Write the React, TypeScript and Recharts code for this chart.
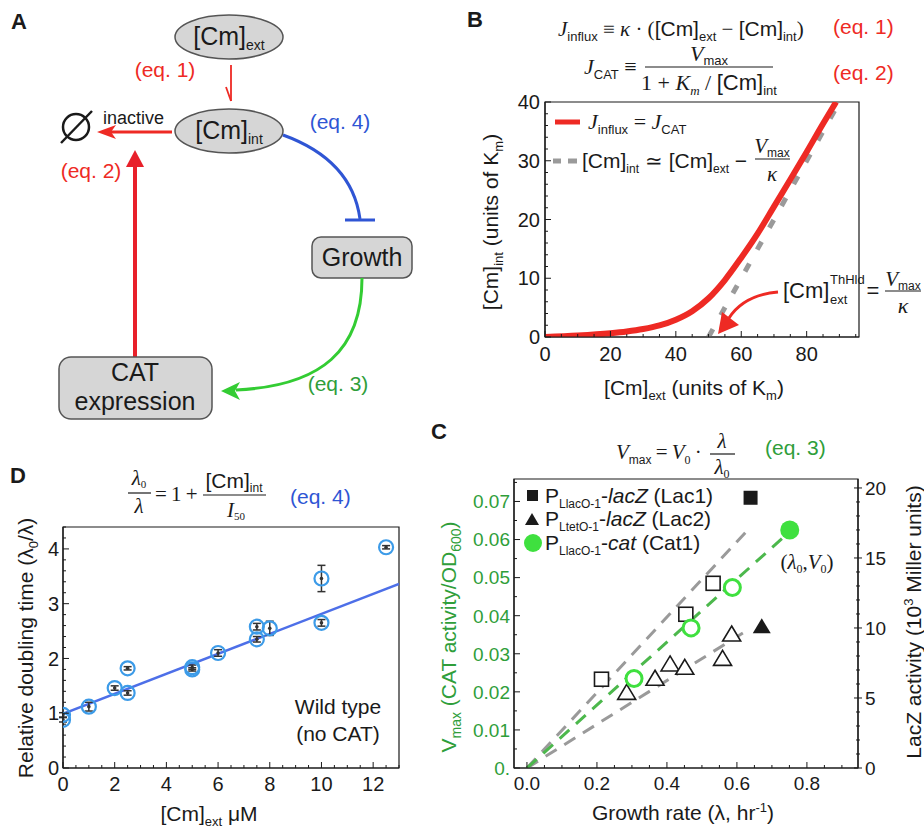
import React from "react";
import { ComposedChart, Line, Scatter, XAxis, YAxis, ErrorBar, ReferenceArea } from "recharts";

const SANS = "'Liberation Sans', Arial, sans-serif";
const SERIF = "'Liberation Serif', 'Times New Roman', serif";
const INK = "#1a1a1a";
const RED = "#ee2a24";
const BLUE = "#2f55d4";
const GREEN = "#2f9e3a";
const LIME = "#3fe03f";
const GRAY = "#9a9a9a";
const RING = "#3c9be8";

// ---- panel B: steady state [Cm]int vs [Cm]ext
const bExt = [0, 10, 20, 25, 30, 35, 40, 45, 50, 55, 60, 65, 70, 75, 80, 85, 89];
const bInt = [0, 0.24, 0.63, 0.93, 1.35, 1.97, 2.95, 4.4, 6.6, 9.7, 13.5, 17.6, 22.2, 26.8, 31.5, 36.3, 40];
const bApproxExt = [50, 90];
const bApproxInt = [0, 40];
const bTicksX = [0, 5, 10, 15, 20, 25, 30, 35, 40, 45, 50, 55, 60, 65, 70, 75, 80, 85, 90, 95];
const bMajorX = [0, 20, 40, 60, 80];
const bTicksY = [0, 2, 4, 6, 8, 10, 12, 14, 16, 18, 20, 22, 24, 26, 28, 30, 32, 34, 36, 38, 40];
const bMajorY = [0, 10, 20, 30, 40];

// ---- panel C: Vmax / LacZ vs growth rate
const lac1X = [0.213, 0.454, 0.532];
const lac1Y = [6.34, 10.98, 13.19];
const lac1RefX = [0.639];
const lac1RefY = [19.3];
const lac2X = [0.285, 0.366, 0.409, 0.451, 0.559, 0.585];
const lac2Y = [5.33, 6.34, 7.36, 7.12, 7.76, 9.5];
const lac2RefX = [0.671];
const lac2RefY = [10.05];
const cat1X = [0.306, 0.469, 0.587];
const cat1Y = [0.0235, 0.0368, 0.0474];
const cat1RefX = [0.751];
const cat1RefY = [0.0625];
const upperX = [0, 0.631];
const upperY = [0, 17.0];
const catFitX = [0, 0.74];
const catFitY = [0, 0.0612];
const lowerX = [0, 0.617];
const lowerY = [0, 9.64];
const cTicksX = [0, 0.05, 0.1, 0.15, 0.2, 0.25, 0.3, 0.35, 0.4, 0.45, 0.5, 0.55, 0.6, 0.65, 0.7, 0.75, 0.8, 0.85, 0.9];
const cMajorX = [0, 0.2, 0.4, 0.6, 0.8];
const cTicksL = [0, 0.005, 0.01, 0.015, 0.02, 0.025, 0.03, 0.035, 0.04, 0.045, 0.05, 0.055, 0.06, 0.065, 0.07, 0.075];
const cMajorL = [0, 0.01, 0.02, 0.03, 0.04, 0.05, 0.06, 0.07];
const cTicksR = [0, 1, 2, 3, 4, 5, 6, 7, 8, 9, 10, 11, 12, 13, 14, 15, 16, 17, 18, 19, 20];
const cMajorR = [0, 5, 10, 15, 20];

// ---- panel D: relative doubling time vs [Cm]ext
const dConc = [0, 0, 1, 2, 2.5, 2.5, 5, 5, 6, 7.5, 7.5, 8, 10, 10, 12.5];
const dRatio = [0.88, 0.97, 1.12, 1.46, 1.82, 1.37, 1.84, 1.8, 2.1, 2.58, 2.35, 2.55, 3.46, 2.65, 4.03];
const dErr = [0.04, 0.04, 0.08, 0.04, 0.03, 0.04, 0.04, 0.03, 0.06, 0.06, 0.05, 0.13, 0.24, 0.06, 0.03];
const dFitX = [0, 13];
const dFitY = [0.99, 3.36];
const dTicksX = [0, 0.5, 1, 1.5, 2, 2.5, 3, 3.5, 4, 4.5, 5, 5.5, 6, 6.5, 7, 7.5, 8, 8.5, 9, 9.5, 10, 10.5, 11, 11.5, 12, 12.5, 13];
const dMajorX = [0, 2, 4, 6, 8, 10, 12];
const dTicksY = [0, 0.2, 0.4, 0.6, 0.8, 1, 1.2, 1.4, 1.6, 1.8, 2, 2.2, 2.4, 2.6, 2.8, 3, 3.2, 3.4, 3.6, 3.8, 4, 4.2, 4.4];
const dMajorY = [0, 1, 2, 3, 4];

const pts = (xs: number[], ys: number[], es?: number[]) =>
  xs.map((x, i) => (es ? { x, y: ys[i], e: es[i] } : { x, y: ys[i] }));

type TickCfg = {
  side: "bottom" | "left" | "right";
  gap: number;
  majors: number[];
  fmt: (v: number) => string;
  size: number;
  color?: string;
};

function tickRenderer(c: TickCfg) {
  return (p: any) => {
    const v = Number(p.payload.value);
    const major = c.majors.some((m) => Math.abs(m - v) < 1e-7);
    const L = major ? 6 : 3;
    const fill = c.color ?? INK;
    if (c.side === "bottom") {
      const a = p.y - c.gap;
      return (
        <g>
          <line x1={p.x} x2={p.x} y1={a} y2={a - L} stroke={INK} strokeWidth={1} />
          {major && (
            <text x={p.x} y={p.y} dy="0.75em" textAnchor="middle" fontSize={c.size} fill={fill} fontFamily={SANS}>
              {c.fmt(v)}
            </text>
          )}
        </g>
      );
    }
    if (c.side === "left") {
      const a = p.x + c.gap;
      return (
        <g>
          <line x1={a} x2={a + L} y1={p.y} y2={p.y} stroke={INK} strokeWidth={1} />
          {major && (
            <text x={p.x} y={p.y} dy="0.36em" textAnchor="end" fontSize={c.size} fill={fill} fontFamily={SANS}>
              {c.fmt(v)}
            </text>
          )}
        </g>
      );
    }
    const a = p.x - c.gap;
    return (
      <g>
        <line x1={a - (major ? 4 : 2)} x2={a + (major ? 4 : 2)} y1={p.y} y2={p.y} stroke={INK} strokeWidth={1} />
        {major && (
          <text x={p.x} y={p.y} dy="0.36em" textAnchor="start" fontSize={c.size} fill={fill} fontFamily={SANS}>
            {c.fmt(v)}
          </text>
        )}
      </g>
    );
  };
}

const axisLine = { stroke: INK, strokeWidth: 1.2 };

function PanelB() {
  return (
    <ComposedChart width={464} height={420} margin={{ top: 102, right: 65, bottom: 53, left: 55 }}>
      <XAxis type="number" dataKey="x" domain={[0, 96]} ticks={bTicksX} interval={0} allowDataOverflow
        height={30} tickSize={0} tickMargin={9} tickLine={false} axisLine={axisLine}
        tick={tickRenderer({ side: "bottom", gap: 9, majors: bMajorX, fmt: String, size: 20 })} />
      <YAxis type="number" dataKey="y" domain={[0, 40]} ticks={bTicksY} interval={0} allowDataOverflow
        width={30} tickSize={0} tickMargin={5} tickLine={false} axisLine={axisLine}
        tick={tickRenderer({ side: "left", gap: 5, majors: bMajorY, fmt: String, size: 20 })} />
      <ReferenceArea x1={0} x2={96} y1={0} y2={40} fill="none" stroke={INK} strokeWidth={1.2} />
      <Line data={pts(bApproxExt, bApproxInt)} dataKey="y" stroke={GRAY} strokeWidth={5}
        strokeDasharray="9 16" dot={false} isAnimationActive={false} />
      <Line data={pts(bExt, bInt)} dataKey="y" type="monotone" stroke={RED} strokeWidth={6}
        dot={false} isAnimationActive={false} />
    </ComposedChart>
  );
}

const openSquare = (p: any) => (
  <rect x={p.cx - 7} y={p.cy - 7} width={14} height={14} fill="#fff" stroke={INK} strokeWidth={1.6} />
);
const fullSquare = (p: any) => <rect x={p.cx - 7} y={p.cy - 7} width={14} height={14} fill={INK} />;
const openTri = (p: any) => (
  <path d={`M${p.cx},${p.cy - 9} L${p.cx + 9},${p.cy + 6} L${p.cx - 9},${p.cy + 6} Z`} fill="#fff" stroke={INK} strokeWidth={1.6} />
);
const fullTri = (p: any) => (
  <path d={`M${p.cx},${p.cy - 9} L${p.cx + 9},${p.cy + 6} L${p.cx - 9},${p.cy + 6} Z`} fill={INK} />
);
const openCircle = (p: any) => <circle cx={p.cx} cy={p.cy} r={8} fill="#fff" stroke={LIME} strokeWidth={3} />;
const fullCircle = (p: any) => <circle cx={p.cx} cy={p.cy} r={9.5} fill={LIME} />;

function PanelC() {
  return (
    <ComposedChart width={494} height={412} margin={{ top: 59, right: 26, bottom: 34, left: 44 }}>
      <XAxis type="number" dataKey="x" domain={[-0.037, 0.946]} ticks={cTicksX} interval={0} allowDataOverflow
        height={30} tickSize={0} tickMargin={8} tickLine={false} axisLine={axisLine}
        tick={tickRenderer({ side: "bottom", gap: 8, majors: cMajorX, fmt: (v) => v.toFixed(1), size: 19 })} />
      <YAxis yAxisId="L" type="number" dataKey="y" domain={[0, 0.0759]} ticks={cTicksL} interval={0} allowDataOverflow
        width={40} tickSize={0} tickMargin={4} tickLine={false} axisLine={axisLine}
        tick={tickRenderer({ side: "left", gap: 4, majors: cMajorL, fmt: (v) => (v === 0 ? "0." : v.toFixed(2)), size: 19, color: GREEN })} />
      <YAxis yAxisId="R" orientation="right" type="number" dataKey="y" domain={[0, 20.64]} ticks={cTicksR} interval={0} allowDataOverflow
        width={40} tickSize={0} tickMargin={7} tickLine={false} axisLine={axisLine}
        tick={tickRenderer({ side: "right", gap: 7, majors: cMajorR, fmt: String, size: 19 })} />
      <ReferenceArea yAxisId="L" x1={-0.037} x2={0.946} y1={0} y2={0.0759} fill="none" stroke={INK} strokeWidth={1.2} />
      <Line yAxisId="R" data={pts(upperX, upperY)} dataKey="y" stroke={GRAY} strokeWidth={3} strokeDasharray="13 9" dot={false} isAnimationActive={false} />
      <Line yAxisId="R" data={pts(lowerX, lowerY)} dataKey="y" stroke={GRAY} strokeWidth={3} strokeDasharray="13 9" dot={false} isAnimationActive={false} />
      <Line yAxisId="L" data={pts(catFitX, catFitY)} dataKey="y" stroke="#4cb84c" strokeWidth={3} strokeDasharray="13 9" dot={false} isAnimationActive={false} />
      <Scatter yAxisId="R" data={pts(lac1X, lac1Y)} shape={openSquare} isAnimationActive={false} />
      <Scatter yAxisId="R" data={pts(lac1RefX, lac1RefY)} shape={fullSquare} isAnimationActive={false} />
      <Scatter yAxisId="R" data={pts(lac2X, lac2Y)} shape={openTri} isAnimationActive={false} />
      <Scatter yAxisId="R" data={pts(lac2RefX, lac2RefY)} shape={fullTri} isAnimationActive={false} />
      <Scatter yAxisId="L" data={pts(cat1X, cat1Y)} shape={openCircle} isAnimationActive={false} />
      <Scatter yAxisId="L" data={pts(cat1RefX, cat1RefY)} shape={fullCircle} isAnimationActive={false} />
    </ComposedChart>
  );
}

const ring = (p: any) => (
  <g>
    <circle cx={p.cx} cy={p.cy} r={7} fill="none" stroke={RING} strokeWidth={2.2} />
    <circle cx={p.cx} cy={p.cy} r={1.8} fill="#333" />
  </g>
);

function PanelD() {
  return (
    <ComposedChart width={460} height={412} margin={{ top: 107, right: 61, bottom: 34, left: 33 }}>
      <XAxis type="number" dataKey="x" domain={[0, 13]} ticks={dTicksX} interval={0} allowDataOverflow
        height={30} tickSize={0} tickMargin={8} tickLine={false} axisLine={axisLine}
        tick={tickRenderer({ side: "bottom", gap: 8, majors: dMajorX, fmt: String, size: 20 })} />
      <YAxis type="number" dataKey="y" domain={[0, 4.4]} ticks={dTicksY} interval={0} allowDataOverflow
        width={30} tickSize={0} tickMargin={4} tickLine={false} axisLine={axisLine}
        tick={tickRenderer({ side: "left", gap: 4, majors: dMajorY, fmt: String, size: 20 })} />
      <ReferenceArea x1={0} x2={13} y1={0} y2={4.4} fill="none" stroke={INK} strokeWidth={1.2} />
      <Line data={pts(dFitX, dFitY)} dataKey="y" stroke="#4d6fe8" strokeWidth={2.5} dot={false} isAnimationActive={false} />
      <Scatter data={pts(dConc, dRatio, dErr)} dataKey="y" shape={ring} isAnimationActive={false}>
        <ErrorBar dataKey="e" direction="y" width={4} stroke="#333" strokeWidth={1.5} />
      </Scatter>
    </ComposedChart>
  );
}

function Overlay() {
  const t = { fontFamily: SANS, fill: INK };
  return (
    <svg width={924} height={832} style={{ position: "absolute", left: 0, top: 0, pointerEvents: "none" }}>
      {/* ---------- panel A ---------- */}
      <text x={11} y={29} fontSize={22} fontWeight="bold" {...t}>A</text>
      <ellipse cx={229} cy={37} rx={54} ry={22} fill="#d6d6d6" stroke="#555" strokeWidth={1.5} />
      <text x={229} y={45} textAnchor="middle" fontSize={25} {...t}>
        [Cm]<tspan fontSize={14} dy={5}>ext</tspan>
      </text>
      <text x={165} y={77} textAnchor="middle" fontSize={21} fontFamily={SANS} fill={RED}>(eq. 1)</text>
      <line x1={231} y1={65} x2={231} y2={101} stroke={RED} strokeWidth={1.8} />
      <line x1={226} y1={87} x2={231} y2={101} stroke={RED} strokeWidth={1.8} />
      <ellipse cx={229} cy={131} rx={54} ry={22} fill="#d6d6d6" stroke="#555" strokeWidth={1.5} />
      <text x={229} y={139} textAnchor="middle" fontSize={25} {...t}>
        [Cm]<tspan fontSize={14} dy={5}>int</tspan>
      </text>
      <text x={103} y={124} fontSize={18} {...t}>inactive</text>
      <circle cx={76} cy={127} r={13} fill="none" stroke={INK} strokeWidth={2.5} />
      <line x1={61} y1={143} x2={92} y2={111} stroke={INK} strokeWidth={2.5} />
      <line x1={172} y1={132} x2={108} y2={132} stroke={RED} strokeWidth={3} />
      <path d="M97,132 L116,125 L111,132 L116,139 Z" fill={RED} />
      <text x={340} y={129} textAnchor="middle" fontSize={21} fontFamily={SANS} fill={BLUE}>(eq. 4)</text>
      <path d="M283,135 Q352,160 360,219" fill="none" stroke={BLUE} strokeWidth={3} />
      <line x1={345} y1={220} x2={375} y2={220} stroke={BLUE} strokeWidth={3} />
      <rect x={312} y={237} width={100} height={41} rx={9} fill="#d6d6d6" stroke="#555" strokeWidth={1.5} />
      <text x={362} y={266} textAnchor="middle" fontSize={25} {...t}>Growth</text>
      <text x={91} y={178} textAnchor="middle" fontSize={21} fontFamily={SANS} fill={RED}>(eq. 2)</text>
      <line x1={135} y1={357} x2={135} y2={164} stroke="#e8202a" strokeWidth={4} />
      <path d="M135,150 L144,167 L126,167 Z" fill="#e8202a" />
      <path d="M362,278 C362,350 322,386 236,390" fill="none" stroke="#33cc33" strokeWidth={3} />
      <path d="M221,391 L240,382 L235,391 L240,400 Z" fill="#33cc33" />
      <text x={338} y={391} textAnchor="middle" fontSize={21} fontFamily={SANS} fill={GREEN}>(eq. 3)</text>
      <rect x={59} y={357} width={153} height={62} rx={12} fill="#d6d6d6" stroke="#555" strokeWidth={1.5} />
      <text x={135} y={381} textAnchor="middle" fontSize={25} {...t}>CAT</text>
      <text x={135} y={410} textAnchor="middle" fontSize={25} {...t}>expression</text>

      {/* ---------- panel B ---------- */}
      <text x={467} y={27} fontSize={22} fontWeight="bold" {...t}>B</text>
      <text x={558} y={36} fontSize={21} fontFamily={SERIF} fill={INK}>
        <tspan fontStyle="italic">J</tspan>
        <tspan fontSize={13} dy={5} fontFamily={SANS}>influx</tspan>
        <tspan dy={-5}>{" ≡ "}</tspan>
        <tspan fontStyle="italic">κ</tspan>
        <tspan>{" · ("}</tspan>
        <tspan fontFamily={SANS}>[Cm]</tspan>
        <tspan fontFamily={SANS} fontSize={13} dy={5}>ext</tspan>
        <tspan dy={-5}>{" − "}</tspan>
        <tspan fontFamily={SANS}>[Cm]</tspan>
        <tspan fontFamily={SANS} fontSize={13} dy={5}>int</tspan>
        <tspan dy={-5}>)</tspan>
      </text>
      <text x={833} y={34} fontSize={21} fontFamily={SANS} fill={RED}>(eq. 1)</text>
      <text x={584} y={74} fontSize={22} fontFamily={SERIF} fill={INK}>
        <tspan fontStyle="italic">J</tspan>
        <tspan fontSize={13} dy={5} fontFamily={SANS}>CAT</tspan>
        <tspan dy={-5}>{" ≡"}</tspan>
      </text>
      <text x={709} y={61} textAnchor="middle" fontSize={22} fontFamily={SERIF} fill={INK}>
        <tspan fontStyle="italic">V</tspan>
        <tspan fontSize={13} dy={4} fontFamily={SANS}>max</tspan>
      </text>
      <line x1={645} y1={67} x2={773} y2={67} stroke={INK} strokeWidth={1.2} />
      <text x={709} y={90} textAnchor="middle" fontSize={22} fontFamily={SERIF} fill={INK}>
        <tspan>{"1 + "}</tspan>
        <tspan fontStyle="italic">K</tspan>
        <tspan fontSize={13} dy={5} fontStyle="italic">m</tspan>
        <tspan dy={-5}>{" / "}</tspan>
        <tspan fontFamily={SANS}>[Cm]</tspan>
        <tspan fontFamily={SANS} fontSize={13} dy={5}>int</tspan>
      </text>
      <text x={833} y={80} fontSize={21} fontFamily={SANS} fill={RED}>(eq. 2)</text>

      <line x1={555} y1={122} x2={580} y2={122} stroke={RED} strokeWidth={5} />
      <text x={588} y={129} fontSize={22} fontFamily={SERIF} fill={INK}>
        <tspan fontStyle="italic">J</tspan>
        <tspan fontSize={13} dy={5} fontFamily={SANS}>influx</tspan>
        <tspan dy={-5}>{" = "}</tspan>
        <tspan fontStyle="italic">J</tspan>
        <tspan fontSize={13} dy={5} fontFamily={SANS}>CAT</tspan>
      </text>
      <line x1={553} y1={161} x2={561} y2={161} stroke={GRAY} strokeWidth={5} />
      <line x1={568} y1={161} x2={577} y2={161} stroke={GRAY} strokeWidth={5} />
      <text x={582} y={168} fontSize={21} {...t}>
        [Cm]<tspan fontSize={12} dy={5}>int</tspan>
        <tspan dy={-5}>{" ≃ [Cm]"}</tspan>
        <tspan fontSize={12} dy={5}>ext</tspan>
        <tspan dy={-5}>{" −"}</tspan>
      </text>
      <text x={772} y={153} textAnchor="middle" fontSize={21} fontFamily={SERIF} fill={INK}>
        <tspan fontStyle="italic">V</tspan>
        <tspan fontSize={12} dy={4} fontFamily={SANS}>max</tspan>
      </text>
      <line x1={755} y1={159} x2={790} y2={159} stroke={INK} strokeWidth={1.2} />
      <text x={772} y={181} textAnchor="middle" fontSize={21} fontFamily={SERIF} fontStyle="italic" fill={INK}>κ</text>

      <text x={783} y={298} fontSize={22} {...t}>[Cm]</text>
      <text x={830} y={284} fontSize={13} {...t}>ThHld</text>
      <text x={830} y={304} fontSize={13} {...t}>ext</text>
      <text x={873} y={298} textAnchor="middle" fontSize={22} {...t}>=</text>
      <text x={903} y={286} textAnchor="middle" fontSize={21} fontFamily={SERIF} fill={INK}>
        <tspan fontStyle="italic">V</tspan>
        <tspan fontSize={12} dy={4} fontFamily={SANS}>max</tspan>
      </text>
      <line x1={885} y1={291} x2={921} y2={291} stroke={INK} strokeWidth={1.2} />
      <text x={903} y={313} textAnchor="middle" fontSize={22} fontFamily={SERIF} fontStyle="italic" fill={INK}>κ</text>
      <path d="M778,292 Q744,295 729,318" fill="none" stroke={RED} strokeWidth={3} />
      <path d="M718,334 L722,312 L739,325 Z" fill={RED} />

      <text x={694} y={395} textAnchor="middle" fontSize={21} {...t}>
        [Cm]<tspan fontSize={13} dy={5}>ext</tspan>
        <tspan dy={-5}>{" (units of K"}</tspan>
        <tspan fontSize={13} dy={5}>m</tspan>
        <tspan dy={-5}>)</tspan>
      </text>
      <text transform="translate(498,222) rotate(-90)" textAnchor="middle" fontSize={21} {...t}>
        [Cm]<tspan fontSize={13} dy={5}>int</tspan>
        <tspan dy={-5}>{" (units of K"}</tspan>
        <tspan fontSize={13} dy={5}>m</tspan>
        <tspan dy={-5}>)</tspan>
      </text>

      {/* ---------- panel C ---------- */}
      <text x={431} y={439} fontSize={22} fontWeight="bold" {...t}>C</text>
      <text x={616} y={459} fontSize={21} fontFamily={SERIF} fill={INK}>
        <tspan fontStyle="italic">V</tspan>
        <tspan fontSize={12} dy={5} fontFamily={SANS}>max</tspan>
        <tspan dy={-5}>{"\u2009=\u2009"}</tspan>
        <tspan fontStyle="italic">V</tspan>
        <tspan fontSize={12} dy={5}>0</tspan>
        <tspan dy={-5}>{"\u2009·"}</tspan>
      </text>
      <text x={722} y={448} textAnchor="middle" fontSize={21} fontFamily={SERIF} fontStyle="italic" fill={INK}>λ</text>
      <line x1={710} y1={454} x2={735} y2={454} stroke={INK} strokeWidth={1.2} />
      <text x={722} y={474} textAnchor="middle" fontSize={21} fontFamily={SERIF} fill={INK}>
        <tspan fontStyle="italic">λ</tspan>
        <tspan fontSize={12} dy={4}>0</tspan>
      </text>
      <text x={765} y={455} fontSize={21} fontFamily={SANS} fill={GREEN}>(eq. 3)</text>

      <rect x={527} y={490} width={11} height={11} fill={INK} />
      <text x={545} y={503} fontSize={21} {...t}>
        P<tspan fontSize={12} dy={5}>LlacO-1</tspan>
        <tspan dy={-5}>-</tspan>
        <tspan fontStyle="italic">lacZ</tspan>
        <tspan>{" (Lac1)"}</tspan>
      </text>
      <path d="M532,513 L539,525 L525,525 Z" fill={INK} />
      <text x={545} y={526} fontSize={21} {...t}>
        P<tspan fontSize={12} dy={5}>LtetO-1</tspan>
        <tspan dy={-5}>-</tspan>
        <tspan fontStyle="italic">lacZ</tspan>
        <tspan>{" (Lac2)"}</tspan>
      </text>
      <circle cx={533} cy={543} r={9} fill={LIME} />
      <text x={545} y={550} fontSize={21} {...t}>
        P<tspan fontSize={12} dy={5}>LlacO-1</tspan>
        <tspan dy={-5}>-</tspan>
        <tspan fontStyle="italic">cat</tspan>
        <tspan>{" (Cat1)"}</tspan>
      </text>
      <text x={807} y={569} textAnchor="middle" fontSize={21} fontFamily={SERIF} fill={INK}>
        <tspan>(</tspan>
        <tspan fontStyle="italic">λ</tspan>
        <tspan fontSize={12} dy={4}>0</tspan>
        <tspan dy={-4}>,</tspan>
        <tspan fontStyle="italic">V</tspan>
        <tspan fontSize={12} dy={4}>0</tspan>
        <tspan dy={-4}>)</tspan>
      </text>

      <text x={683} y={820} textAnchor="middle" fontSize={21} {...t}>
        Growth rate (λ, hr<tspan fontSize={13} dy={-8}>-1</tspan>
        <tspan dy={8}>)</tspan>
      </text>
      <text transform="translate(456,637) rotate(-90)" textAnchor="middle" fontSize={21} fontFamily={SANS} fill={GREEN}>
        V<tspan fontSize={14} dy={5}>max</tspan>
        <tspan dy={-5}>{" (CAT activity/OD"}</tspan>
        <tspan fontSize={14} dy={5}>600</tspan>
        <tspan dy={-5}>)</tspan>
      </text>
      <text transform="translate(921,622) rotate(-90)" textAnchor="middle" fontSize={21} {...t}>
        LacZ activity (10<tspan fontSize={13} dy={-8}>3</tspan>
        <tspan dy={8}>{" Miller units)"}</tspan>
      </text>

      {/* ---------- panel D ---------- */}
      <text x={10} y={483} fontSize={22} fontWeight="bold" {...t}>D</text>
      <text x={139} y={485} textAnchor="middle" fontSize={21} fontFamily={SERIF} fill={INK}>
        <tspan fontStyle="italic">λ</tspan>
        <tspan fontSize={11} dy={3}>0</tspan>
      </text>
      <line x1={128} y1={493} x2={151} y2={493} stroke={INK} strokeWidth={1.2} />
      <text x={139} y={513} textAnchor="middle" fontSize={21} fontFamily={SERIF} fontStyle="italic" fill={INK}>λ</text>
      <text x={155} y={501} fontSize={21} fontFamily={SERIF} fill={INK}>{"=\u20091\u2009+"}</text>
      <text x={234} y={488} textAnchor="middle" fontSize={21} {...t}>
        [Cm]<tspan fontSize={12} dy={4}>int</tspan>
      </text>
      <line x1={203} y1={495} x2={266} y2={495} stroke={INK} strokeWidth={1.2} />
      <text x={236} y={517} textAnchor="middle" fontSize={21} fontFamily={SERIF} fill={INK}>
        <tspan fontStyle="italic">I</tspan>
        <tspan fontSize={11} dy={3}>50</tspan>
      </text>
      <text x={290} y={504} fontSize={21} fontFamily={SANS} fill={BLUE}>(eq. 4)</text>
      <text x={338} y={714} textAnchor="middle" fontSize={21} {...t}>Wild type</text>
      <text x={338} y={741} textAnchor="middle" fontSize={21} {...t}>(no CAT)</text>
      <text x={209} y={821} textAnchor="middle" fontSize={21} {...t}>
        [Cm]<tspan fontSize={13} dy={5}>ext</tspan>
        <tspan dy={-5}>{" μM"}</tspan>
      </text>
      <text transform="translate(33,648) rotate(-90)" textAnchor="middle" fontSize={21} {...t}>
        Relative doubling time (λ<tspan fontSize={13} dy={5}>0</tspan>
        <tspan dy={-5}>/λ)</tspan>
      </text>
    </svg>
  );
}

export default function App() {
  return (
    <div style={{ position: "absolute", left: 0, top: 0, width: 924, height: 832, background: "#fff", overflow: "hidden", fontFamily: SANS }}>
      <div style={{ position: "absolute", left: 460, top: 0 }}>
        <PanelB />
      </div>
      <div style={{ position: "absolute", left: 0, top: 420 }}>
        <PanelD />
      </div>
      <div style={{ position: "absolute", left: 430, top: 420 }}>
        <PanelC />
      </div>
      <Overlay />
    </div>
  );
}
